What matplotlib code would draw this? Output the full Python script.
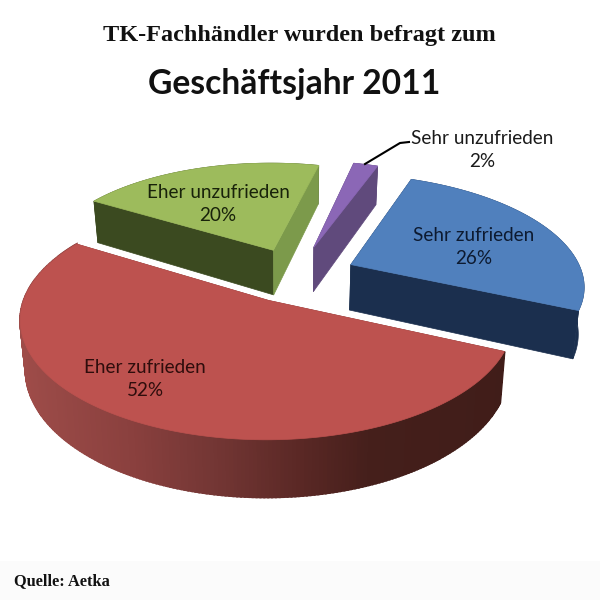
import numpy as np
import matplotlib
matplotlib.use('Agg')
import matplotlib.pyplot as plt
from matplotlib.colors import to_rgb

# Data, clockwise from the upper right
categories = ['Sehr zufrieden', 'Eher zufrieden', 'Eher unzufrieden', 'Sehr unzufrieden']
values = [26, 52, 20, 2]

# How far each slice was pulled out, in pie radii
offset_x = [0.2369, -0.14417, -0.08803, 0.09423]
offset_y = [-0.11038, 0.18661, -0.27411, -0.29129]

# Colours: top, wall along first edge, outer wall, wall along last edge
top_colors = ['#5080bd', '#bd524f', '#9dbb5c', '#8b67b6']
wall_a = ['#1b2f4e', '#7a3836', '#3b4a20', '#604a7c']
wall_arc = ['#1b2f4e', None, '#3b4a20', '#604a7c']
wall_b = ['#1b2f4e', '#7a3836', '#7c9a4b', '#604a7c']
label_colors = ['#0d1a30', '#2e0d0c', '#18220a', '#1a1a1a']

# Shading of the outer wall of the big slice, by x position
shade_x = [20, 40, 130, 215, 300, 370, 510]
shade_c = [to_rgb(c) for c in ['#9f4c49', '#9a4a47', '#8a403e', '#733634', '#5a2825', '#451f1b', '#401d19']]

# Projection of the pie plane onto the picture
H = [239.63, -24.875, 299.04, -2.886, 64.745, 278.22, 0.01884, -0.15841]
start = -1.13333
depth = 46.5
vanish_x = 290


def project(x, y):
    w = 1 + H[6] * x + H[7] * y
    return (H[0] * x + H[1] * y + H[2]) / w, (H[3] * x + H[4] * y + H[5]) / w, 1 / w


def wall(ax, x, y, s, color, lw=0.5):
    # lower edge of the wall
    bx = vanish_x + (x - vanish_x) * 0.98
    by = y + depth * s
    ax.fill(np.r_[x, bx[::-1]], np.r_[y, by[::-1]], color=color, lw=lw, zorder=ax.zcount)
    ax.zcount += 1


fig = plt.figure(figsize=(6, 6), dpi=100)
ax = fig.add_axes([0, 0, 1, 1])
ax.set_xlim(0, 600)
ax.set_ylim(600, 0)
ax.axis('off')
ax.zcount = 2

ax.fill_between([0, 600], 561, 600, color='#fbfbfb', lw=0, zorder=1)

# slice geometry from the values
spans = np.array(values) * 2 * np.pi / sum(values)
starts = start + np.r_[0, np.cumsum(spans)[:-1]]

# back slices first
for i in [2, 3, 0, 1]:
    ox, oy = offset_x[i], offset_y[i]
    th = np.linspace(starts[i], starts[i] + spans[i], 240)
    px, py, ps = project(ox, oy)
    X, Y, S = project(ox + np.cos(th), oy + np.sin(th))

    wall(ax, np.array([px, X[0]]), np.array([py, Y[0]]), np.array([ps, S[0]]), wall_a[i])
    if wall_arc[i] is None:
        for j in range(0, len(th) - 1):
            mx = (X[j] + X[j + 1]) / 2
            rgb = [np.interp(mx, shade_x, [c[k] for c in shade_c]) for k in range(3)]
            wall(ax, X[j:j + 2], Y[j:j + 2], S[j:j + 2], rgb, lw=1.5)
    else:
        wall(ax, X, Y, S, wall_arc[i])
    wall(ax, np.array([px, X[-1]]), np.array([py, Y[-1]]), np.array([ps, S[-1]]), wall_b[i])

    ax.fill(np.r_[px, X], np.r_[py, Y], color=top_colors[i], lw=0.5, zorder=ax.zcount)
    ax.zcount += 1

z = ax.zcount + 1
label_pos = [(474, 247), (145, 379), (218, 204), (482, 150)]
for i in range(4):
    ax.text(label_pos[i][0], label_pos[i][1], f'{categories[i]}\n{values[i]}%', ha='center', va='center',
            family='Lato', fontsize=13.6, color=label_colors[i], linespacing=1.48, zorder=z)

# leader line of the small slice
ax.plot([365, 400, 409], [164, 143, 142], color='black', lw=1.5, zorder=z)

ax.text(299, 36, 'TK-Fachhändler wurden befragt zum', ha='center', va='center', family='Liberation Serif',
        fontweight='bold', fontsize=17.5, color='#111111', zorder=z)
ax.text(294, 84, 'Geschäftsjahr 2011', ha='center', va='center', family='Lato',
        fontweight='bold', fontsize=24.2, color='#111111', zorder=z)
ax.text(14, 581, 'Quelle: Aetka', ha='left', va='center', family='Liberation Serif',
        fontweight='bold', fontsize=11.8, color='#111111', zorder=z)

fig.savefig('out.png', dpi=100)
